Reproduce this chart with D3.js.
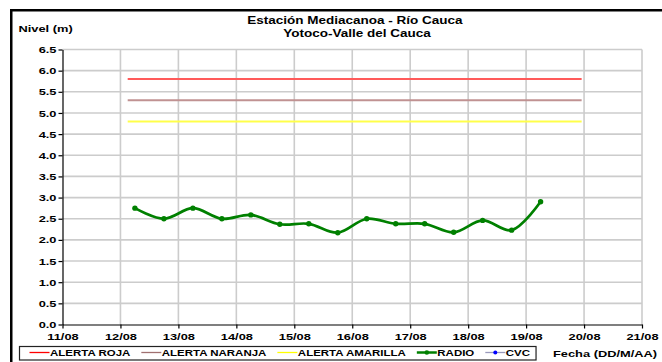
<!DOCTYPE html>
<html><head><meta charset="utf-8">
<script src="https://cdn.jsdelivr.net/npm/d3@7"></script>
<style>
html,body{margin:0;padding:0;background:#fff;}
svg text{font-family:"Liberation Sans",Arial,sans-serif;font-weight:bold;fill:#000;}
</style></head>
<body><svg id="c" width="662" height="362"></svg>
<script>
// ---- data ----
const titleLines = ["Estación Mediacanoa - Río Cauca", "Yotoco-Valle del Cauca"];
const yLabel = "Nivel (m)";
const xLabel = "Fecha (DD/M/AA)";
const xTicks = ["2010-08-11","2010-08-12","2010-08-13","2010-08-14","2010-08-15","2010-08-16","2010-08-17","2010-08-18","2010-08-19","2010-08-20","2010-08-21"];
const yTicks = [0,0.5,1,1.5,2,2.5,3,3.5,4,4.5,5,5.5,6,6.5];
const radioTimes = ["2010-08-12T06:00","2010-08-12T18:00","2010-08-13T06:00","2010-08-13T18:00","2010-08-14T06:00","2010-08-14T18:00","2010-08-15T06:00","2010-08-15T18:00","2010-08-16T06:00","2010-08-16T18:00","2010-08-17T06:00","2010-08-17T18:00","2010-08-18T06:00","2010-08-18T18:00","2010-08-19T06:00"];
const radioValues = [2.75,2.5,2.75,2.5,2.59,2.37,2.38,2.17,2.5,2.38,2.38,2.18,2.46,2.23,2.9];
const cvcTimes = [];
const cvcValues = [];
const alertTimes = ["2010-08-12T03:00","2010-08-19T23:00"];
const alertNames = ["ALERTA ROJA","ALERTA NARANJA","ALERTA AMARILLA"];
const alertLevels = [5.8,5.3,4.8];
const alertColors = ["#ff5a5a","#c09292","#ffff4a"];
const legendNames = ["ALERTA ROJA","ALERTA NARANJA","ALERTA AMARILLA","RADIO","CVC"];
const legendColors = ["#ff0000","#a07070","#ffff00","#008000","#9999bb"];

// ---- layout ----
const SX = 1.35;
const L = 62.5, R = 642, T = 49.5, B = 324.5;
const svg = d3.select("#c");
const P = s => new Date(s + (s.length === 10 ? "T00:00:00Z" : ":00Z"));
const x = d3.scaleUtc().domain([P(xTicks[0]), P(xTicks[xTicks.length-1])]).range([L, R]);
const y = d3.scaleLinear().domain([0, 6.5]).range([B, T]);

function stretch(sel, f) {
  sel.each(function () {
    const w = this.getComputedTextLength();
    d3.select(this).attr("textLength", w * f).attr("lengthAdjust", "spacingAndGlyphs");
  });
}

// frame
svg.append("rect").attr("x", 11.25).attr("y", 10.25).attr("width", 700).attr("height", 400)
  .attr("fill", "#fff").attr("stroke", "#000").attr("stroke-width", 2.5);

// grid
const g = svg.append("g");
g.selectAll(".hg").data(yTicks.filter(d => d > 0)).join("line")
  .attr("x1", L).attr("x2", R).attr("y1", d => y(d)).attr("y2", d => y(d))
  .attr("stroke", "#cccccc").attr("stroke-width", 1.6);
g.selectAll(".vg").data(xTicks.slice(1)).join("line")
  .attr("x1", d => x(P(d))).attr("x2", d => x(P(d))).attr("y1", T).attr("y2", B)
  .attr("stroke", "#cccccc").attr("stroke-width", 1.6);

// alert lines
alertLevels.forEach((lv, i) => {
  const line = d3.line().x(d => x(P(d))).y(() => y(lv));
  svg.append("path").attr("d", line(alertTimes)).attr("fill", "none")
    .attr("stroke", alertColors[i]).attr("stroke-width", 2);
});

// radio series
const rl = d3.line().x((d, i) => x(P(radioTimes[i]))).y(d => y(d)).curve(d3.curveCatmullRom.alpha(0.5));
svg.append("path").attr("d", rl(radioValues)).attr("fill", "none")
  .attr("stroke", "#008000").attr("stroke-width", 2.7);
svg.selectAll(".rp").data(radioValues).join("circle")
  .attr("cx", (d, i) => x(P(radioTimes[i]))).attr("cy", d => y(d)).attr("r", 2.7).attr("fill", "#008000");
svg.selectAll(".cp").data(cvcValues).join("circle")
  .attr("cx", (d, i) => x(P(cvcTimes[i]))).attr("cy", d => y(d)).attr("r", 2.2).attr("fill", "#0000ff");

// axes
const ya = svg.append("g").attr("transform", `translate(${L},0)`)
  .call(d3.axisLeft(y).tickValues(yTicks).tickFormat(d3.format(".1f")).tickSize(4).tickPadding(2).tickSizeOuter(0));
const xa = svg.append("g").attr("transform", `translate(0,${B})`)
  .call(d3.axisBottom(x).tickValues(xTicks.map(P)).tickFormat(d3.utcFormat("%d/%m")).tickSize(4).tickPadding(5).tickSizeOuter(0));
[ya, xa].forEach(a => {
  a.select(".domain").attr("stroke", "#000").attr("stroke-width", 1.2);
  a.selectAll(".tick line").attr("stroke", "#000").attr("stroke-width", 1.2);
  a.selectAll("text").attr("font-size", 9.5).attr("font-family", null).attr("fill", "#000");
  stretch(a.selectAll("text"), SX);
});

// titles
const tt = svg.append("g");
tt.append("text").attr("x", 355).attr("y", 24).attr("text-anchor", "middle").attr("font-size", 10).text(titleLines[0]);
tt.append("text").attr("x", 357).attr("y", 37).attr("text-anchor", "middle").attr("font-size", 10).text(titleLines[1]);
tt.append("text").attr("x", 18.5).attr("y", 31.5).attr("font-size", 9.5).text(yLabel);
tt.append("text").attr("x", 553).attr("y", 357).attr("font-size", 9.5).text(xLabel);
stretch(tt.selectAll("text"), SX);

// legend
const lg = svg.append("g");
const box = lg.append("rect").attr("fill", "#fff").attr("stroke", "#222").attr("stroke-width", 1.2);
let cx = 29.5;
const ly = 352.5;
legendNames.forEach((n, i) => {
  const isRadio = n === "RADIO";
  lg.append("line").attr("x1", cx).attr("x2", cx + 20).attr("y1", ly).attr("y2", ly)
    .attr("stroke", legendColors[i]).attr("stroke-width", isRadio ? 2.5 : 1.3);
  if (isRadio) lg.append("circle").attr("cx", cx + 10).attr("cy", ly).attr("r", 2.3).attr("fill", "#008000");
  if (n === "CVC") lg.append("circle").attr("cx", cx + 10).attr("cy", ly).attr("r", 2).attr("fill", "#0000ff");
  const t = lg.append("text").attr("x", cx + 20.5).attr("y", ly + 3.2).attr("font-size", 8.5).text(n);
  stretch(t, SX);
  cx += 20.5 + (+t.attr("textLength")) + 11;
});
box.attr("x", 19.5).attr("y", 346.5).attr("width", cx - 11 + 6 - 19.5).attr("height", 13.5);
</script></body></html>
